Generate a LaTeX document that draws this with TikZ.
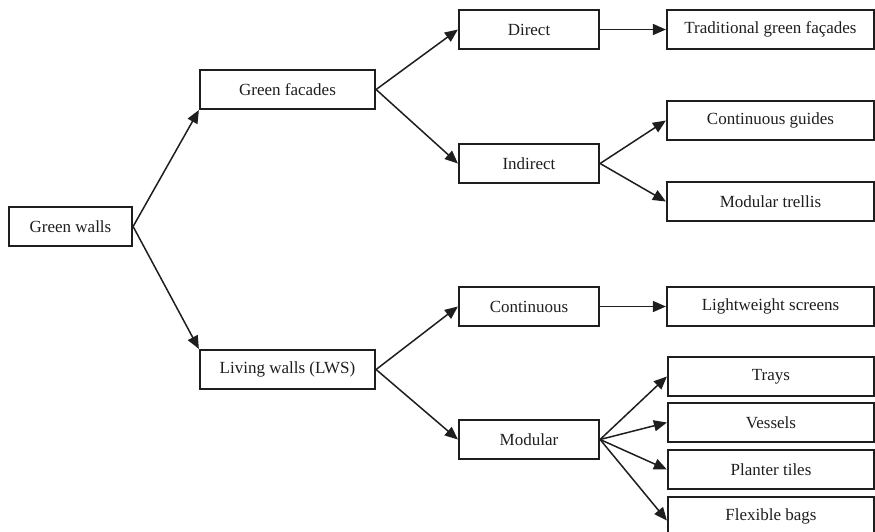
\documentclass[tikz,border=0pt]{standalone}
\usepackage{fontspec}
\setmainfont{Liberation Serif}
\usetikzlibrary{arrows.meta}
\definecolor{ink}{HTML}{1E1E1E}
\begin{document}
\begin{tikzpicture}[x=1pt,y=-1pt,
  box/.style={draw=ink, line width=2.2pt, inner sep=0pt, minimum height=39pt,
    font=\fontsize{17}{20}\selectfont, text=ink},
  lvl1/.style={box, minimum width=175pt},
  lvl2/.style={box, minimum width=140pt},
  lvl3/.style={box, minimum width=207pt},
  lvl3b/.style={box, minimum width=206pt},
  conn/.style={draw=ink, line width=1.5pt, -{Triangle[length=13pt,width=11pt]}}]
\useasboundingbox (0,0) rectangle (875,531);
\clip (0,0) rectangle (875,531);
\node[box, minimum width=123pt] (gw) at (70.5,226.5) {Green walls};
\node[lvl1] (gf) at (287.5,89.5) {Green facades};
\node[lvl1] (lw) at (287.5,369.5) {Living walls (LWS)};
\node[lvl2] (dir) at (529,29.5) {Direct};
\node[lvl2] (ind) at (529,163.5) {Indirect};
\node[lvl2] (con) at (529,306.5) {Continuous};
\node[lvl2] (mod) at (529,439.5) {Modular};
\node[lvl3] (trad) at (770.5,29.5) {Traditional green façades};
\node[lvl3] (cg) at (770.5,120.5) {Continuous guides};
\node[lvl3] (mt) at (770.5,201.5) {Modular trellis};
\node[lvl3] (ls) at (770.5,306.5) {Lightweight screens};
\node[lvl3b] (tr) at (771,376.5) {Trays};
\node[lvl3b] (ve) at (771,422.5) {Vessels};
\node[lvl3b] (pt) at (771,469.5) {Planter tiles};
\node[lvl3b] (fb) at (771,516.5) {Flexible bags};
\draw[conn] (gw.east) -- (gf.south west);
\draw[conn] (gw.east) -- (lw.north west);
\draw[conn] (gf.east) -- (dir.west);
\draw[conn] (gf.east) -- (ind.west);
\draw[conn] (dir.east) -- (dir.east -| trad.west);
\draw[conn] (ind.east) -- (cg.west);
\draw[conn] (ind.east) -- (mt.west);
\draw[conn] (lw.east) -- (con.west);
\draw[conn] (lw.east) -- (mod.west);
\draw[conn] (con.east) -- (con.east -| ls.west);
\draw[conn] (mod.east) -- (tr.west);
\draw[conn] (mod.east) -- (ve.west);
\draw[conn] (mod.east) -- (pt.west);
\draw[conn] (mod.east) -- ([yshift=-4pt]fb.west);
\end{tikzpicture}
\end{document}
